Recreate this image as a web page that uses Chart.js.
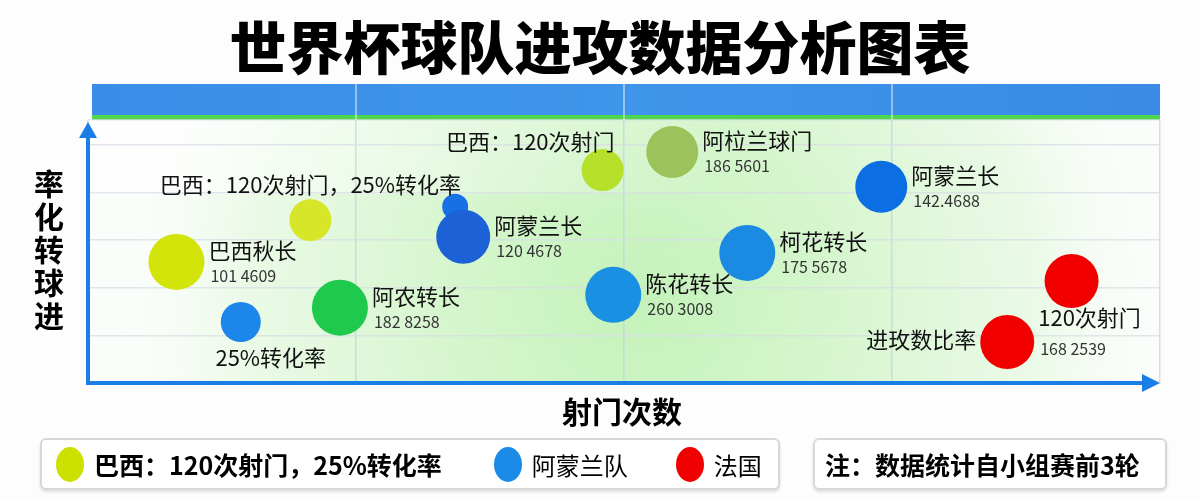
<!DOCTYPE html>
<html>
<head>
<meta charset="utf-8">
<script src="https://cdn.jsdelivr.net/npm/chart.js@4.4.1/dist/chart.umd.min.js"></script>
<style>
  body { margin: 0; width: 1200px; height: 500px; background: #fdfdfd; font-family: "Noto Sans CJK SC", "Noto Sans", sans-serif; overflow: hidden; }
  #wrap { position: relative; width: 1200px; height: 500px; }
  canvas { position: absolute; left: 0; top: 0; }
  .title { position: absolute; left: 0; width: 1200px; top: 9px; text-align: center; font-size: 57px; font-weight: 900; color: #000; line-height: 70px; }
  .ylab { position: absolute; left: 33px; top: 166px; width: 32px; font-size: 30px; font-weight: 700; line-height: 33px; text-align: center; }
  .xlab { position: absolute; left: 562px; top: 390px; font-size: 30px; font-weight: 700; line-height: 40px; }
  .box { position: absolute; top: 438px; height: 48px; border: 2px solid #d8d8d8; border-radius: 6px; background: #fff; box-shadow: 0 2px 3px rgba(0,0,0,0.12); display: flex; align-items: center; font-size: 24px; }
  .dot { display: inline-block; width: 28px; height: 35px; border-radius: 50%; margin-right: 10px; }
</style>
</head>
<body>
<div id="wrap">
  <canvas id="chart" width="1200" height="500"></canvas>
  <div class="title">世界杯球队进攻数据分析图表</div>
  <div class="ylab">率<br>化<br>转<br>球<br>进</div>
  <div class="xlab">射门次数</div>
  <div class="box" style="left:40px; width:736px;">
    <span class="dot" style="margin-left:14px; background:#cde100;"></span><b style="font-size:25px;">巴西：120次射门，25%转化率</b>
    <span class="dot" style="margin-left:52px; background:#1a8be6;"></span><span>阿蒙兰队</span>
    <span class="dot" style="margin-left:48px; background:#f00000;"></span><span>法国</span>
  </div>
  <div class="box" style="left:813px; width:350px;">
    <b style="margin-left:10px; font-size:25px;">注：数据统计自小组赛前3轮</b>
  </div>
</div>
<script>
// bubble positions (x = shot bucket, y = conversion bucket), radius in px
const xValues = [0.33, 0.83, 0.57, 0.94, 1.37, 1.40, 1.92, 2.18, 1.96, 2.46, 2.96, 3.67, 3.43]
const yValues = [2.54, 3.42, 1.28, 1.58, 3.70, 3.07, 4.47, 4.85, 1.85, 2.73, 4.12, 2.14, 0.86]
const radii   = [28, 21, 20, 28, 13, 27, 21, 26, 28, 28, 26, 27, 27]
const names   = ['巴西秋长', '巴西：120次射门，25%转化率', '25%转化率', '阿农转长', '', '阿蒙兰长',
                 '巴西：120次射门', '阿柆兰球门', '陈花转长', '柯花转长', '阿蒙兰长', '', '120次射门']
const numbers = ['101 4609', '', '', '182 8258', '', '120 4678', '', '186 5601', '260 3008',
                 '175 5678', '142.4688', '', '168 2539']
const extraLeft = ['', '', '', '', '', '', '', '', '', '', '', '', '进玫数比率']
const colors  = ['#d2e40a', '#d8e62a', '#1d86ea', '#1ec94c', '#1670e6', '#1c62d6', '#b6e02a',
                 '#9cc25c', '#1a90e2', '#1a8ae2', '#0b6ee2', '#f20000', '#f20000']

// label placement: r = right of bubble, a = centred above, al = above, right aligned, b = below
const labelSide = ['r', 'a', 'b', 'r', '', 'r', 'al', 'r', 'r', 'r', 'r', '', 'r']

const points = xValues.map((x, i) => ({ x: x, y: yValues[i], r: radii[i] }))

const backdrop = {
  id: 'backdrop',
  beforeDraw(chart) {
    const { ctx, chartArea: a } = chart
    ctx.save()
    ctx.fillStyle = '#fbfdfb'
    ctx.fillRect(a.left, a.top, a.right - a.left, a.bottom - a.top)
    const g = ctx.createRadialGradient(640, 300, 0, 640, 300, 560)
    g.addColorStop(0, 'rgba(196,242,186,1)')
    g.addColorStop(0.35, 'rgba(214,246,206,1)')
    g.addColorStop(0.7, 'rgba(232,249,228,0.9)')
    g.addColorStop(1, 'rgba(255,255,255,0)')
    ctx.fillStyle = g
    ctx.fillRect(a.left, a.top, a.right - a.left, a.bottom - a.top)
    const w = ctx.createLinearGradient(a.left, 0, a.right, 0)
    w.addColorStop(0, 'rgba(255,255,255,0.7)')
    w.addColorStop(0.4, 'rgba(255,255,255,0.25)')
    w.addColorStop(0.6, 'rgba(255,255,255,0)')
    ctx.fillStyle = w
    ctx.fillRect(a.left, a.top, a.right - a.left, 74)
    // header band
    const b = ctx.createLinearGradient(a.left, 0, a.right, 0)
    b.addColorStop(0, '#3a8de8')
    b.addColorStop(0.5, '#3f95ea')
    b.addColorStop(1, '#3a8ae6')
    ctx.fillStyle = b
    ctx.fillRect(a.left + 4, 84, a.right - a.left - 4, 32)
    ctx.fillStyle = '#4fd64f'
    ctx.fillRect(a.left + 4, 115, a.right - a.left - 4, 5)
    ctx.strokeStyle = 'rgba(255,255,255,0.6)'
    ctx.lineWidth = 1.5
    const xs = chart.scales.x
    ;[1, 2, 3].forEach(t => {
      const px = xs.getPixelForValue(t)
      ctx.beginPath(); ctx.moveTo(px, 84); ctx.lineTo(px, 120); ctx.stroke()
    })
    ctx.restore()
  },
  afterDraw(chart) {
    const { ctx, chartArea: a } = chart
    ctx.save()
    ctx.strokeStyle = '#1a7ee6'
    ctx.fillStyle = '#1a7ee6'
    ctx.lineWidth = 4
    ctx.beginPath()
    ctx.moveTo(a.left, 136); ctx.lineTo(a.left, a.bottom); ctx.lineTo(a.right - 14, a.bottom)
    ctx.stroke()
    ctx.beginPath()
    ctx.moveTo(a.left, 122); ctx.lineTo(a.left - 9, 138); ctx.lineTo(a.left + 9, 138); ctx.closePath(); ctx.fill()
    ctx.beginPath()
    ctx.moveTo(a.right, a.bottom); ctx.lineTo(a.right - 18, a.bottom - 9); ctx.lineTo(a.right - 18, a.bottom + 9); ctx.closePath(); ctx.fill()
    ctx.restore()
  }
}

const bubbleLabels = {
  id: 'bubbleLabels',
  afterDatasetsDraw(chart) {
    const { ctx } = chart
    const meta = chart.getDatasetMeta(0)
    ctx.save()
    ctx.textBaseline = 'middle'
    meta.data.forEach((el, i) => {
      const r = radii[i]
      const side = labelSide[i]
      ctx.fillStyle = '#111'
      ctx.font = '22px "Noto Sans CJK SC"'
      if (side === 'r') {
        ctx.textAlign = 'left'
        const dy = numbers[i] ? -11 : 0
        ctx.fillText(names[i], el.x + r + 4, el.y + dy + (i === 12 ? -13 : 0))
        if (numbers[i]) {
          ctx.font = '16px "Noto Sans CJK SC"'
          ctx.fillStyle = '#333'
          ctx.fillText(numbers[i], el.x + r + 6, el.y + 14 + (i === 12 ? -7 : 0))
        }
      } else if (side === 'a') {
        ctx.textAlign = 'center'
        ctx.fillText(names[i], el.x, el.y - 35)
      } else if (side === 'al') {
        ctx.textAlign = 'right'
        ctx.fillText(names[i], el.x + 12, el.y - 28)
      } else if (side === 'b') {
        ctx.textAlign = 'center'
        ctx.fillText(names[i], el.x + 30, el.y + 36)
      }
      if (extraLeft[i]) {
        ctx.font = '22px "Noto Sans CJK SC"'
        ctx.fillStyle = '#111'
        ctx.textAlign = 'right'
        ctx.fillText(extraLeft[i], el.x - r - 4, el.y - 2)
      }
    })
    ctx.restore()
  }
}

new Chart(document.getElementById('chart'), {
  type: 'bubble',
  data: {
    datasets: [{
      data: points,
      backgroundColor: colors,
      borderWidth: 0,
      hoverBorderWidth: 0
    }]
  },
  options: {
    responsive: false,
    animation: false,
    layout: { padding: { left: 88, right: 40, top: 120, bottom: 117 } },
    plugins: {
      legend: { display: false },
      tooltip: { enabled: false }
    },
    scales: {
      x: {
        min: 0, max: 4,
        ticks: { display: false, stepSize: 1 },
        border: { display: false },
        grid: { color: 'rgba(200,205,225,0.7)', lineWidth: 1.5, drawTicks: false }
      },
      y: {
        min: 0, max: 5.52,
        ticks: { display: false, stepSize: 1 },
        border: { display: false },
        grid: { color: 'rgba(215,220,230,0.7)', lineWidth: 1.5, drawTicks: false }
      }
    }
  },
  plugins: [backdrop, bubbleLabels]
})
</script>
</body>
</html>
